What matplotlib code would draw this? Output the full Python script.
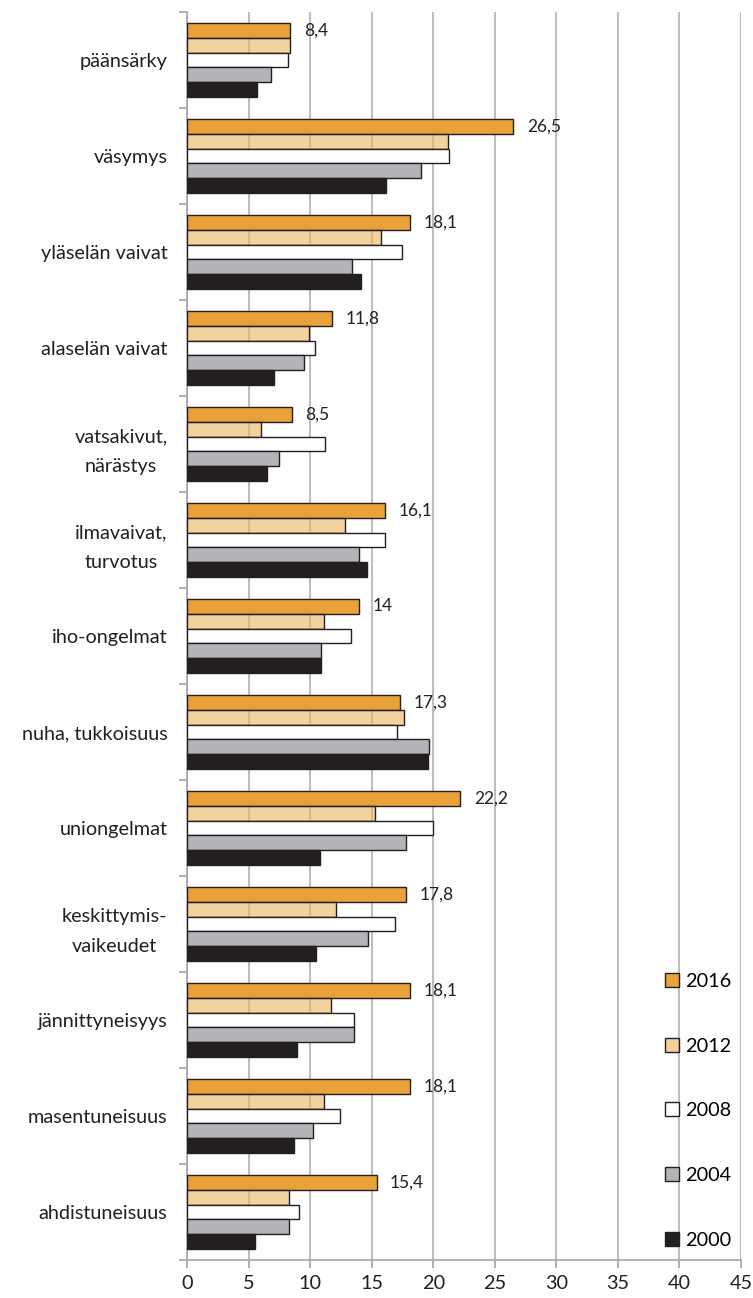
import numpy as np
import matplotlib
matplotlib.use("Agg")
import matplotlib.pyplot as plt
from matplotlib.patches import Patch

# ================= DATA =================
kategoriat = [
    "päänsärky", "väsymys", "yläselän vaivat", "alaselän vaivat",
    "vatsakivut,\nnärästys", "ilmavaivat,\nturvotus", "iho-ongelmat",
    "nuha, tukkoisuus", "uniongelmat", "keskittymis-\nvaikeudet",
    "jännittyneisyys", "masentuneisuus", "ahdistuneisuus",
]
vuodet = ["2016", "2012", "2008", "2004", "2000"]

v2016 = [8.4, 26.5, 18.1, 11.8, 8.5, 16.1, 14, 17.3, 22.2, 17.8, 18.1, 18.1, 15.4]
v2012 = [8.4, 21.2, 15.8, 9.9, 6.0, 12.8, 11.1, 17.6, 15.3, 12.1, 11.7, 11.1, 8.3]
v2008 = [8.2, 21.3, 17.5, 10.4, 11.2, 16.1, 13.3, 17.1, 20.0, 16.9, 13.6, 12.4, 9.1]
v2004 = [6.8, 19.0, 13.4, 9.5, 7.5, 14.0, 10.9, 19.7, 17.8, 14.7, 13.6, 10.2, 8.3]
v2000 = [5.7, 16.2, 14.1, 7.1, 6.5, 14.6, 10.9, 19.6, 10.8, 10.5, 8.9, 8.7, 5.5]
sarjat = [v2016, v2012, v2008, v2004, v2000]

# ================= STYLE =================
VARIT = [
    "#E8A238",
    (0.935, 0.71, 0.37, 0.6),   # 2012 läpikuultava, ruudukko näkyy läpi
    "#FFFFFF",
    "#B2B4B7",
    "#231F20",
]
REUNA = "#231F20"
HARMAA = "#A6A6A6"
FONTTI = "Lato"

plt.rcParams["font.family"] = [FONTTI, "DejaVu Sans"]

fig = plt.figure(figsize=(7.53, 12.98), dpi=100)
ax = fig.add_axes([0.2483, 0.0293, 0.984 - 0.2483, 0.9908 - 0.0293])

n = len(kategoriat)
y = np.arange(n)
h = 0.154

for j, (vals, vari) in enumerate(zip(sarjat, VARIT)):
    offset = (j - 2) * h
    ax.barh(y + offset, vals, height=h, color=vari, edgecolor=REUNA,
            linewidth=1.0, zorder=3, label=vuodet[j])

# arvot vain vuodelle 2016
for i, v in enumerate(v2016):
    teksti = f"{v:g}".replace(".", ",")
    ax.text(v + 1.1, y[i] - 2 * h, teksti, va="center", ha="left",
            fontsize=12.5, color="#231F20", zorder=4)

ax.set_xlim(0, 45)
ax.set_ylim(n - 0.5, -0.5)
ax.set_xticks(np.arange(0, 46, 5))
ax.set_yticks(y)
ax.set_yticklabels(kategoriat, fontsize=14.3, color="#231F20",
                   multialignment="center", linespacing=1.9)
ax.set_yticks(np.arange(-0.5, n, 1), minor=True)

ax.tick_params(axis="y", which="major", length=0, pad=14)
ax.tick_params(axis="y", which="minor", length=6, width=1.2, color=HARMAA, direction="out")
ax.tick_params(axis="x", length=6, width=1.2, color=HARMAA, labelsize=14.3,
               labelcolor="#231F20", pad=5)

ax.grid(axis="x", color="#BEBEBE", linewidth=1.5, zorder=0)
ax.set_axisbelow(True)
for s in ["top", "right"]:
    ax.spines[s].set_visible(False)
for s in ["left", "bottom"]:
    ax.spines[s].set_color(HARMAA)
    ax.spines[s].set_linewidth(1.2)

# selite
kahvat = [Patch(facecolor=VARIT[k], edgecolor=REUNA, linewidth=1.0) for k in range(5)]
ax.legend(kahvat, vuodet, loc="upper left", bbox_to_anchor=(0.883, 0.2505),
          bbox_transform=fig.transFigure, frameon=False, fontsize=14.3,
          handlelength=0.7, handleheight=0.7, handletextpad=0.3,
          labelspacing=2.4, borderpad=0, borderaxespad=0)

fig.savefig("out.png", dpi=100)
plt.close()
